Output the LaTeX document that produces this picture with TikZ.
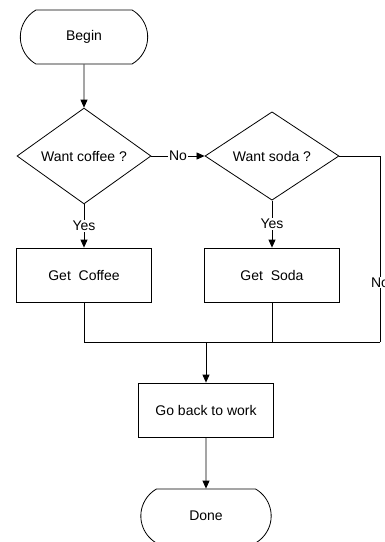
\documentclass[tikz,border=0pt]{standalone}
\usepackage{fontspec}
\setmainfont{Liberation Sans}
\usepackage{tikz}
\usetikzlibrary{arrows.meta,shapes.geometric,shapes.misc}
\tikzset{>={Triangle[length=8pt,width=7pt]}}
\tikzset{
  term/.style={draw, rounded rectangle, rounded rectangle arc length=120, minimum width=134pt, minimum height=54pt},
  decision/.style={draw, diamond, inner sep=0pt, minimum width=134pt, minimum height=78pt},
  task/.style={draw, rectangle, minimum width=135pt, minimum height=54pt},
  lbl/.style={fill=white, inner sep=1pt}
}

\begin{document}
\begin{tikzpicture}[x=1pt, y=-1pt, line width=0.8pt, font=\fontsize{14}{16}\selectfont]
\def\xl {84}   % x of left column
\def\xr {272}  % x of right column
\def\xm {206}  % x of middle column
\def\xno {380} % x of the right hand No line
\def\yjoin {342} % y of the joining line
\useasboundingbox (0,0) rectangle (385,542);
% start:
 \node[term] (begin) at (\xl,37) {Begin};
% decisions:
 \node[decision] (coffee) at (\xl,156) {Want coffee ?};
 \node[decision] (soda) at (\xr,156) {Want soda ?};
% tasks:
 \node[task] (getcoffee) at (\xl,275) {Get\ \ Coffee};
 \node[task] (getsoda) at (\xr,275) {Get\ \ Soda};
 \node[task] (goback) at (\xm,410) {Go back to work};
 \node[term, minimum width=137pt] (done) at (\xm,516) {Done};
% joins:
 \coordinate (join) at (\xm,\yjoin);
 \coordinate (joinR) at (\xno,\yjoin);
%% connectors:
 \draw[->] (begin) -- (coffee);
 \draw[->] (coffee) -- node[lbl] (nocoffee) {No} (soda);
 \draw[->] (coffee) -- node[lbl] (yescoffee) {Yes} (getcoffee);
 \draw[->] (soda) -- node[lbl] (yessoda) {Yes} (getsoda);
 \draw (soda.east) -| node[lbl, pos=0.84] (nosoda) {No} (joinR);
 \draw (getcoffee.south) |- (joinR);
 \draw (getsoda.south) -- (getsoda.south |- join);
 \draw[->] (join) -- (goback);
 \draw[->] (goback) -- (done);
\end{tikzpicture}
\end{document}
